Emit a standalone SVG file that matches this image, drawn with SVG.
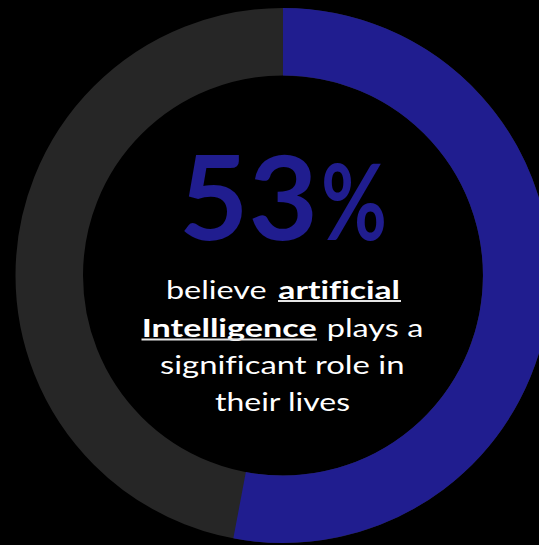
<svg xmlns="http://www.w3.org/2000/svg" width="539" height="545" viewBox="0 0 539 545">
  <style>
    .body { font-family: Lato, "Open Sans", "Liberation Sans", sans-serif; font-size: 25.5px; fill: #ffffff; font-variant-ligatures: none; font-feature-settings: "liga" 0, "clig" 0; }
    .bold { font-weight: 700; }
    .big { font-family: Lato, "Liberation Sans", sans-serif; font-weight: 700; fill: #201d8f; }
    .ul { stroke: #e6e6e6; stroke-width: 1.8; }
  </style>
  <rect x="0" y="0" width="539" height="545" fill="#000000"/>
  <g id="donut">
    <circle id="rest" cx="283" cy="275.5" r="233.75" fill="none" stroke="#262626" stroke-width="67.5"/>
    <path id="share" d="M 283 41.75 A 233.75 233.75 0 1 1 239.6 505.2" fill="none" stroke="#201d8f" stroke-width="67.5"/>
  </g>
  <g id="value">
    <text class="big" x="179" y="239.5" font-size="117" textLength="139" lengthAdjust="spacingAndGlyphs">53</text>
    <text class="big" x="321" y="239.5" font-size="106" textLength="66" lengthAdjust="spacingAndGlyphs">%</text>
  </g>
  <g id="caption">
    <text class="body" x="166" y="298.5" textLength="100.7" lengthAdjust="spacingAndGlyphs">believe</text>
    <text class="body bold" x="278.3" y="298.5" textLength="121.7" lengthAdjust="spacingAndGlyphs">artificial</text>
    <line class="ul" x1="278" y1="301" x2="401" y2="301"/>
    <text class="body bold" x="141.7" y="336.5" textLength="175" lengthAdjust="spacingAndGlyphs">Intelligence</text>
    <line class="ul" x1="141.5" y1="339.5" x2="317" y2="339.5"/>
    <text class="body" x="326.7" y="336.5" textLength="96.6" lengthAdjust="spacingAndGlyphs">plays a</text>
    <text class="body" x="160" y="374" textLength="244.5" lengthAdjust="spacingAndGlyphs">significant role in</text>
    <text class="body" x="215" y="411" textLength="135" lengthAdjust="spacingAndGlyphs">their lives</text>
  </g>
</svg>
